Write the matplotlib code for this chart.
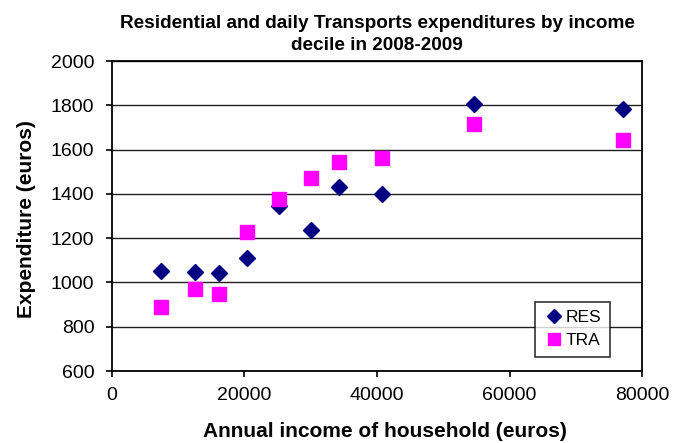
import matplotlib.pyplot as plt

plt.rcParams['font.family'] = ['Liberation Sans', 'DejaVu Sans']

# income deciles (euros) and expenditures
income = [7400, 12600, 16200, 20400, 25200, 30000, 34200, 40800, 54600, 77100]
res = [1052, 1048, 1043, 1112, 1346, 1236, 1433, 1400, 1805, 1782]
tra = [887, 971, 947, 1230, 1376, 1471, 1544, 1562, 1715, 1642]

fig = plt.figure(figsize=(6.86, 4.43), dpi=100)
ax = fig.add_axes([0.163, 0.1625, 0.773, 0.6995])

ax.plot(income, res, linestyle='none', marker='D', markersize=8.5,
        color='#000080', label='RES')
ax.plot(income, tra, linestyle='none', marker='s', markersize=10,
        color='#ff00ff', label='TRA')

ax.set_xlim(0, 80000)
ax.set_ylim(600, 2000)
ax.set_xticks(range(0, 80001, 20000))
ax.set_yticks(range(600, 2001, 200))
ax.yaxis.grid(True, color='#202020', linewidth=1)
ax.set_axisbelow(True)
ax.tick_params(labelsize=14, direction='out', length=4.5, width=1.2)
ax.tick_params(axis='x', pad=7)
ax.tick_params(axis='y', pad=8)

for s in ax.spines.values():
    s.set_linewidth(1.3)

ax.set_title('Residential and daily Transports expenditures by income\ndecile in 2008-2009',
             fontsize=13.7, fontweight='bold', pad=8, linespacing=1.35)
ax.set_xlabel('Annual income of household (euros)', fontsize=15, fontweight='bold')
ax.set_ylabel('Expenditure (euros)', fontsize=15, fontweight='bold')
ax.xaxis.set_label_coords(0.515, -0.165)
ax.yaxis.set_label_coords(-0.143, 0.49)

leg = ax.legend(loc='lower right', bbox_to_anchor=(0.94, 0.045), fontsize=12.5,
                frameon=True, fancybox=False, edgecolor='black', markerscale=0.85,
                handletextpad=0.1, handlelength=1.2, borderpad=0.5, labelspacing=0.45,
                borderaxespad=0)
leg.get_frame().set_linewidth(1.2)

fig.savefig('out.png', dpi=100)
